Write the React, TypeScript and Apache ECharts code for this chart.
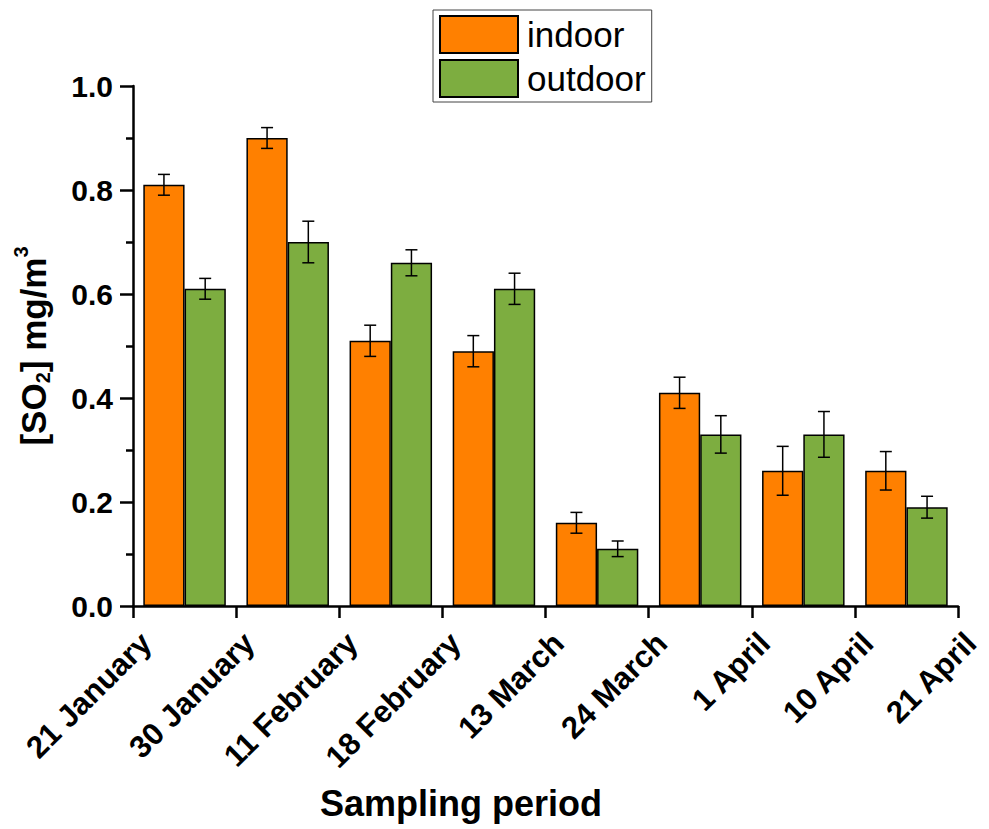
import React, { useEffect, useRef } from "react";
import * as echarts from "echarts";

const groups = ["G1", "G2", "G3", "G4", "G5", "G6", "G7", "G8"];
const tickLabels = [
  "21 January",
  "30 January",
  "11 February",
  "18 February",
  "13 March",
  "24 March",
  "1 April",
  "10 April",
  "21 April",
];
const indoor = [0.81, 0.9, 0.51, 0.49, 0.16, 0.41, 0.26, 0.26];
const outdoor = [0.61, 0.7, 0.66, 0.61, 0.11, 0.33, 0.33, 0.19];
const indoorErr = [0.02, 0.02, 0.03, 0.03, 0.02, 0.03, 0.047, 0.037];
const outdoorErr = [0.02, 0.04, 0.025, 0.03, 0.015, 0.036, 0.044, 0.021];
const yTicks = [0, 0.2, 0.4, 0.6, 0.8, 1.0];

const FONT = "'Liberation Sans', Arial, Helvetica, sans-serif";
const ORANGE = "#FF8000";
const GREEN = "#7DAD40";

function errSeries(name: string, vals: number[], errs: number[], shift: number) {
  return {
    type: "custom",
    name,
    xAxisIndex: 0,
    yAxisIndex: 0,
    z: 10,
    encode: { x: 0, y: 1 },
    data: vals.map((v, i) => [i, v, errs[i]]),
    renderItem: (params: any, api: any) => {
      const i = api.value(0);
      const v = api.value(1);
      const e = api.value(2);
      const c = api.coord([i, v]);
      const band = api.size([1, 0])[0];
      const x = c[0] + shift * band;
      const yt = api.coord([i, v + e])[1];
      const yb = api.coord([i, v - e])[1];
      const hw = 6;
      const st = { stroke: "#000", lineWidth: 1.5 };
      return {
        type: "group",
        children: [
          { type: "line", shape: { x1: x, y1: yt, x2: x, y2: yb }, style: st },
          { type: "line", shape: { x1: x - hw, y1: yt, x2: x + hw, y2: yt }, style: st },
          { type: "line", shape: { x1: x - hw, y1: yb, x2: x + hw, y2: yb }, style: st },
        ],
      };
    },
  };
}

export default function App() {
  const ref = useRef<HTMLDivElement>(null);
  useEffect(() => {
    document.body.style.margin = "0";
    if (!ref.current) return;
    const chart = echarts.init(ref.current, null, { renderer: "svg" });
    const axisFont = { fontFamily: FONT, fontWeight: "bold" as const, color: "#000" };
    chart.setOption({
      animation: false,
      backgroundColor: "#fff",
      grid: [
        { left: 133, top: 86, width: 825, height: 520 },
        { left: 146, top: 86, width: 825, height: 520 },
      ],
      legend: {
        orient: "vertical",
        left: 433,
        top: 10,
        itemWidth: 78,
        itemHeight: 37,
        itemGap: 5,
        padding: [5, 6, 4, 6],
        borderColor: "#444",
        borderWidth: 1,
        icon: "rect",
        data: ["indoor", "outdoor"],
        textStyle: { fontFamily: FONT, fontSize: 35, color: "#000", padding: [0, 0, 0, 4] },
      },
      xAxis: [
        {
          type: "category",
          gridIndex: 0,
          data: groups,
          boundaryGap: true,
          axisLine: { lineStyle: { color: "#000", width: 2.5 } },
          axisTick: { show: true, length: 12, lineStyle: { color: "#000", width: 2.5 } },
          axisLabel: { show: false },
        },
        {
          type: "category",
          gridIndex: 1,
          data: tickLabels,
          boundaryGap: false,
          axisLine: { show: false },
          axisTick: { show: false },
          axisLabel: { ...axisFont, fontSize: 31, rotate: 45, margin: 32, interval: 0 },
        },
      ],
      yAxis: [
        {
          type: "value",
          gridIndex: 0,
          min: 0,
          max: 1,
          interval: 0.2,
          name: "{a|[SO}{b|2}{a|] mg/m}{c|3}",
          nameLocation: "middle",
          nameGap: 78,
          nameTextStyle: {
            rich: {
              a: { fontFamily: FONT, fontWeight: "bold", fontSize: 35, color: "#000", lineHeight: 44, verticalAlign: "middle" },
              b: { fontFamily: FONT, fontWeight: "bold", fontSize: 20, color: "#000", lineHeight: 44, verticalAlign: "bottom", padding: [0, 0, 2, 0] },
              c: { fontFamily: FONT, fontWeight: "bold", fontSize: 20, color: "#000", lineHeight: 44, verticalAlign: "top" },
            },
          },
          axisLine: { show: true, lineStyle: { color: "#000", width: 2.5 } },
          axisTick: { show: true, length: 13, lineStyle: { color: "#000", width: 2.5 } },
          minorTick: { show: true, splitNumber: 2, length: 7, lineStyle: { color: "#000", width: 2.5 } },
          splitLine: { show: false },
          axisLabel: {
            ...axisFont,
            fontSize: 30,
            margin: 20,
            formatter: (v: number) => (yTicks.some((t) => Math.abs(t - v) < 1e-9) ? v.toFixed(1) : ""),
          },
        },
        { type: "value", gridIndex: 1, show: false, min: 0, max: 1 },
      ],
      graphic: [
        {
          type: "text",
          left: 320,
          top: 785,
          style: { text: "Sampling period", font: `bold 36px ${FONT}`, fill: "#000" },
        },
      ],
      series: [
        {
          type: "bar",
          name: "indoor",
          data: indoor,
          barGap: "0%",
          barCategoryGap: "20%",
          itemStyle: { color: ORANGE, borderColor: "#000", borderWidth: 1.5 },
        },
        {
          type: "bar",
          name: "outdoor",
          data: outdoor,
          barGap: "0%",
          barCategoryGap: "20%",
          itemStyle: { color: GREEN, borderColor: "#000", borderWidth: 1.5 },
        },
        errSeries("indoorErr", indoor, indoorErr, -0.2),
        errSeries("outdoorErr", outdoor, outdoorErr, 0.2),
      ],
    });
    return () => chart.dispose();
  }, []);
  return <div ref={ref} style={{ width: 989, height: 829 }} />;
}
